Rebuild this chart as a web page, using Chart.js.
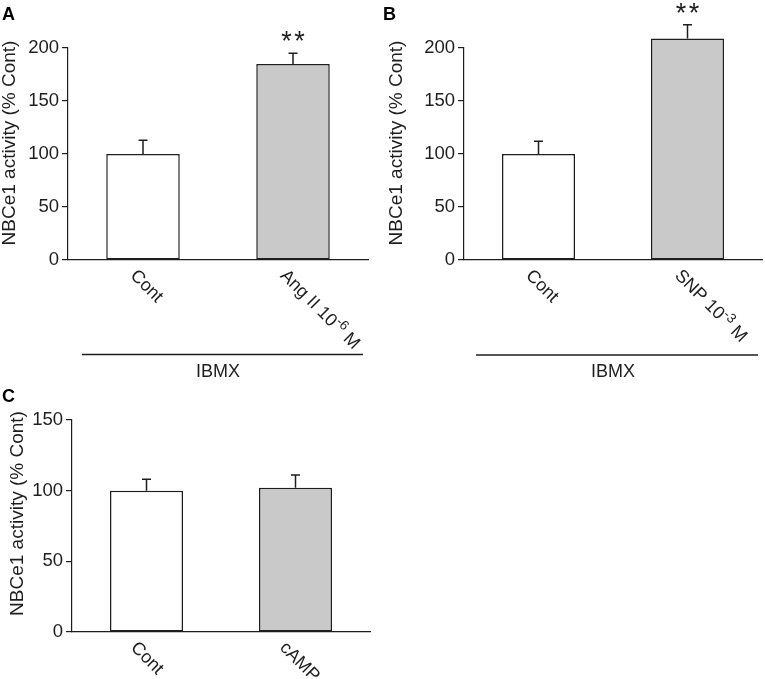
<!DOCTYPE html>
<html><head><meta charset="utf-8">
<script src="https://cdn.jsdelivr.net/npm/chart.js@4.4.1/dist/chart.umd.min.js"></script>
<style>
html,body{margin:0;padding:0;background:#fff;}
body{width:765px;height:679px;overflow:hidden;position:relative;}
canvas{position:absolute;}
</style></head><body>
<canvas id="cA" width="380" height="380" style="left:0;top:0"></canvas>
<canvas id="cB" width="385" height="380" style="left:380px;top:0"></canvas>
<canvas id="cC" width="380" height="299" style="left:0;top:380px"></canvas>
<script>
// ---- data ----
const yTitle = 'NBCe1 activity (% Cont)';
// label parts: even index = normal text, odd index = superscript
const labelPartsA = [['Cont'], ['Ang II 10', '-6', ' M']];
const labelPartsB = [['Cont'], ['SNP 10', '-3', ' M']];
const labelPartsC = [['Cont'], ['cAMP']];
const categoriesA = labelPartsA.map(p => p.join(''));
const categoriesB = labelPartsB.map(p => p.join(''));
const categoriesC = labelPartsC.map(p => p.join(''));
const valuesA = [100, 185];
const semA = [13, 10];
const sigA = ['', '**'];
const valuesB = [100, 209];
const semB = [12, 13];
const sigB = ['', '**'];
const valuesC = [100, 102];
const semC = [8, 9];
const sigC = ['', ''];
const yMaxAB = 200, yMaxC = 150, yStep = 50;
const groupLabel = 'IBMX';

// ---- style ----
const INK = '#1e1e1e';
const FONT = '"Liberation Sans", Arial, Helvetica, sans-serif';
const barFills = ['#ffffff', '#c9c9c9'];

function drawParts(ctx, parts, x, y) {
  ctx.save();
  ctx.translate(x, y);
  ctx.rotate(Math.PI / 4);
  ctx.textAlign = 'left';
  ctx.textBaseline = 'middle';
  ctx.fillStyle = INK;
  let cx = 0;
  parts.forEach((p, j) => {
    const sup = j % 2 === 1;
    ctx.font = (sup ? '13.5px ' : '18px ') + FONT;
    ctx.fillText(p, cx, sup ? -5.5 : 0);
    cx += ctx.measureText(p).width;
  });
  ctx.restore();
}

function makeChart(id, o) {
  const decor = {
    id: 'decor',
    afterDraw(chart) {
      const ctx = chart.ctx, xs = chart.scales.x, ys = chart.scales.y;
      ctx.save();
      // error bars + significance
      ctx.strokeStyle = INK; ctx.lineWidth = 1.5;
      o.values.forEach((v, i) => {
        const x = xs.getPixelForValue(i);
        const y0 = ys.getPixelForValue(v);
        const y1 = ys.getPixelForValue(v + o.sem[i]);
        ctx.beginPath();
        ctx.moveTo(x, y0); ctx.lineTo(x, y1);
        ctx.moveTo(x - 4.5, y1); ctx.lineTo(x + 4.5, y1);
        ctx.stroke();
        if (o.sig[i]) {
          ctx.fillStyle = INK;
          ctx.font = '27px ' + FONT;
          ctx.textAlign = 'center';
          ctx.textBaseline = 'alphabetic';
          const n = o.sig[i].length;
          for (let k = 0; k < n; k++) {
            const sx = x + (k - (n - 1) / 2) * 13;
            ctx.fillText('*', sx, y1 - 16 + 13);
          }
        }
      });
      // x labels (rotated 45deg clockwise)
      o.parts.forEach((p, i) => {
        const x = xs.getPixelForValue(i);
        drawParts(ctx, p, x + o.labDx, xs.top + o.labDy);
      });
      // y title
      ctx.save();
      ctx.translate(o.titleX, o.titleY);
      ctx.rotate(-Math.PI / 2);
      ctx.textAlign = 'center'; ctx.textBaseline = 'middle';
      ctx.fillStyle = INK;
      ctx.font = '19px ' + FONT;
      ctx.fillText(yTitle, 0, 0);
      ctx.restore();
      // panel letter
      ctx.fillStyle = '#000';
      ctx.font = 'bold 18px ' + FONT;
      ctx.textAlign = 'left'; ctx.textBaseline = 'alphabetic';
      ctx.fillText(o.letter, o.letterX, o.letterY);
      // group bracket
      if (o.group) {
        const g = o.group;
        ctx.strokeStyle = INK; ctx.lineWidth = 1.3;
        ctx.beginPath(); ctx.moveTo(g.x1, g.y); ctx.lineTo(g.x2, g.y); ctx.stroke();
        ctx.fillStyle = INK;
        ctx.font = '18px ' + FONT;
        ctx.textAlign = 'center'; ctx.textBaseline = 'alphabetic';
        ctx.fillText(groupLabel, g.tx, g.ty);
      }
      ctx.restore();
    }
  };
  return new Chart(document.getElementById(id), {
    type: 'bar',
    data: {
      labels: o.categories,
      datasets: [{
        data: o.values,
        backgroundColor: barFills,
        borderColor: INK,
        borderWidth: 1.5,
        borderSkipped: false,
        barPercentage: 0.49,
        categoryPercentage: 1,
        clip: false
      }]
    },
    options: {
      responsive: false,
      animation: false,
      devicePixelRatio: 1,
      layout: { padding: o.pad },
      plugins: { legend: { display: false }, tooltip: { enabled: false } },
      scales: {
        x: {
          ticks: { display: false },
          grid: { display: true, drawOnChartArea: false, drawTicks: false },
          border: { display: true, color: INK, width: 1.2 },
          afterFit(s) { s.height = o.xh; }
        },
        y: {
          min: 0, max: o.yMax,
          ticks: { stepSize: yStep, color: INK, padding: 3, font: { size: 18.5, family: FONT } },
          grid: { display: true, drawOnChartArea: false, drawTicks: true, tickLength: 6, color: INK, lineWidth: 1.2 },
          border: { display: true, color: INK, width: 1.2 },
          afterFit(s) { s.width = o.yw; }
        }
      }
    },
    plugins: [decor]
  });
}

makeChart('cA', {
  categories: categoriesA, parts: labelPartsA, values: valuesA, sem: semA, sig: sigA,
  yMax: yMaxAB, yw: 68, xh: 120, pad: { top: 48, right: 12, left: 0, bottom: 0 },
  labDx: -10, labDy: 13, titleX: 10, titleY: 143, letter: 'A', letterX: 2, letterY: 20,
  group: { x1: 82, x2: 363, y: 354.5, tx: 218, ty: 377 }
});
makeChart('cB', {
  categories: categoriesB, parts: labelPartsB, values: valuesB, sem: semB, sig: sigB,
  yMax: yMaxAB, yw: 84, xh: 120, pad: { top: 48, right: 3, left: 0, bottom: 0 },
  labDx: -10, labDy: 13, titleX: 17, titleY: 143, letter: 'B', letterX: 3, letterY: 20,
  group: { x1: 96, x2: 378, y: 355, tx: 233, ty: 377 }
});
makeChart('cC', {
  categories: categoriesC, parts: labelPartsC, values: valuesC, sem: semC, sig: sigC,
  yMax: yMaxC, yw: 72, xh: 47, pad: { top: 40, right: 10, left: 0, bottom: 0 },
  labDx: -13, labDy: 13, titleX: 18, titleY: 133.5, letter: 'C', letterX: 2, letterY: 22,
  group: null
});
</script>
</body></html>
